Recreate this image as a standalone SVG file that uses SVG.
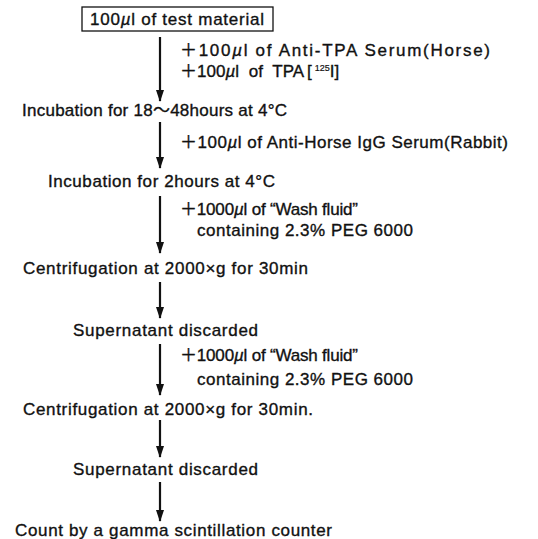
<svg xmlns="http://www.w3.org/2000/svg" width="538" height="539" viewBox="0 0 538 539">
<style>
text{font-family:"Liberation Sans","Noto Sans CJK JP",sans-serif;font-size:17px;fill:#111;stroke:#111;stroke-width:0.35}
.ar{stroke:#111;stroke-width:2.2;fill:none}
.mu{font-style:italic}
.sup{font-size:9px;stroke-width:0.2}
</style>
<defs>
<marker id="ah" viewBox="0 0 12 8" refX="11" refY="4" markerWidth="12" markerHeight="8" markerUnits="userSpaceOnUse" orient="auto">
<path d="M0,0 L12,4 L0,8 Z" fill="#111"/>
</marker>
</defs>
<rect width="538" height="539" fill="#fff"/>
<g id="connectors">
<line class="ar" x1="160" y1="37" x2="160" y2="101" marker-end="url(#ah)"/>
<line class="ar" x1="160" y1="122" x2="160" y2="168" marker-end="url(#ah)"/>
<line class="ar" x1="160" y1="196" x2="160" y2="253" marker-end="url(#ah)"/>
<line class="ar" x1="160" y1="282" x2="160" y2="318" marker-end="url(#ah)"/>
<line class="ar" x1="160" y1="344" x2="160" y2="395" marker-end="url(#ah)"/>
<line class="ar" x1="160" y1="420" x2="160" y2="457" marker-end="url(#ah)"/>
<line class="ar" x1="160" y1="482" x2="160" y2="521" marker-end="url(#ah)"/>
</g>
<g id="n-start">
<rect x="82" y="7" width="191" height="24" fill="#fff" stroke="#111" stroke-width="1.3"/>
<text x="90" y="25" textLength="174">100<tspan class="mu">µ</tspan>l of test material</text>
</g>
<g id="l-add1">
<text x="180" y="56" textLength="310">＋100<tspan class="mu">µ</tspan>l of Anti-TPA Serum(Horse)</text>
<text x="180" y="77" word-spacing="5">＋100<tspan class="mu">µ</tspan>l of TPA<tspan dx="3">[</tspan><tspan class="sup" dx="3" dy="-6">125</tspan><tspan dy="6">I]</tspan></text>
</g>
<g id="n-inc1">
<text x="22" y="116" textLength="265">Incubation for 18〜48hours at 4°C</text>
</g>
<g id="l-add2">
<text x="180" y="148" textLength="328">＋100<tspan class="mu">µ</tspan>l of Anti-Horse IgG Serum(Rabbit)</text>
</g>
<g id="n-inc2">
<text x="48" y="187" textLength="227">Incubation for 2hours at 4°C</text>
</g>
<g id="l-wash1">
<text x="180" y="215" textLength="178">＋1000<tspan class="mu">µ</tspan>l of “Wash fluid”</text>
<text x="197" y="236" textLength="216">containing 2.3% PEG 6000</text>
</g>
<g id="n-cent1">
<text x="23" y="274" textLength="285">Centrifugation at 2000×g for 30min</text>
</g>
<g id="n-sup1">
<text x="73" y="336" textLength="185">Supernatant discarded</text>
</g>
<g id="l-wash2">
<text x="180" y="361" textLength="178">＋1000<tspan class="mu">µ</tspan>l of “Wash fluid”</text>
<text x="197" y="385" textLength="216">containing 2.3% PEG 6000</text>
</g>
<g id="n-cent2">
<text x="23" y="415" textLength="290">Centrifugation at 2000×g for 30min.</text>
</g>
<g id="n-sup2">
<text x="73" y="475" textLength="185">Supernatant discarded</text>
</g>
<g id="n-count">
<text x="15" y="536" textLength="317">Count by a gamma scintillation counter</text>
</g>
</svg>
